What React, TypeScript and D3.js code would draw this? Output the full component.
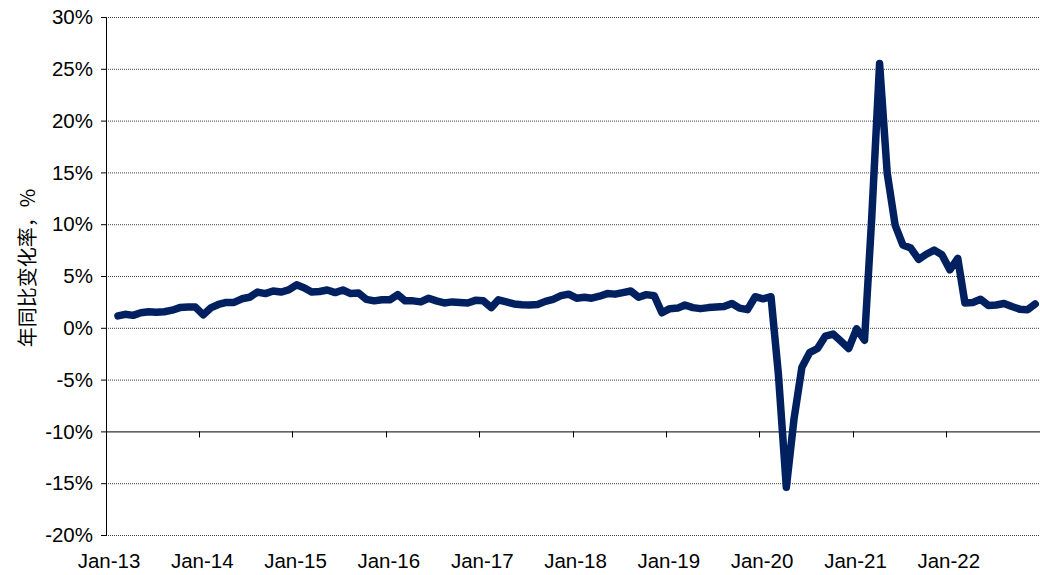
import * as d3 from "d3";

// Year-on-year change, %, monthly from Feb-13 to Dec-22
const v2013 = [1.15, 1.3, 1.2, 1.45, 1.55, 1.5, 1.55, 1.7, 1.95, 2.0, 2.0];
const v2014 = [1.25, 1.95, 2.25, 2.45, 2.45, 2.8, 2.95, 3.45, 3.3, 3.55, 3.45, 3.65];
const v2015 = [4.15, 3.85, 3.45, 3.5, 3.65, 3.4, 3.65, 3.3, 3.35, 2.75, 2.6, 2.7];
const v2016 = [2.7, 3.2, 2.6, 2.6, 2.5, 2.85, 2.6, 2.4, 2.5, 2.45, 2.4, 2.65];
const v2017 = [2.6, 1.95, 2.7, 2.5, 2.3, 2.22, 2.2, 2.25, 2.55, 2.75, 3.1, 3.25];
const v2018 = [2.86, 2.95, 2.86, 3.05, 3.3, 3.25, 3.4, 3.55, 2.95, 3.2, 3.1, 1.45];
const v2019 = [1.85, 1.9, 2.2, 1.95, 1.85, 1.95, 2.0, 2.05, 2.35, 1.9, 1.75, 3.0];
const v2020 = [2.8, 3.0, -4.5, -15.4, -8.8, -3.8, -2.4, -2.0, -0.8, -0.6, -1.3, -2.0];
const v2021 = [-0.1, -1.2, 10.5, 25.5, 14.9, 9.9, 8.0, 7.7, 6.6, 7.1, 7.5, 7.05];
const v2022 = [5.6, 6.7, 2.4, 2.45, 2.75, 2.15, 2.2, 2.35, 2.05, 1.8, 1.75, 2.3];

const yTicks = [30, 25, 20, 15, 10, 5, 0, -5, -10, -15, -20];
const yTitle = "年同比变化率，%";

const W = 1040;
const H = 575;
const LINE = "#002060";
const FONT = "'Liberation Sans', Arial, sans-serif";

interface Pt {
  date: Date;
  value: number;
}

export default function App() {
  const values = [
    ...v2013, ...v2014, ...v2015, ...v2016, ...v2017,
    ...v2018, ...v2019, ...v2020, ...v2021, ...v2022,
  ];
  const first = new Date(2013, 1, 1);
  const data: Pt[] = values.map((value, i) => {
    const m = d3.timeMonth.offset(first, i);
    return { date: d3.timeDay.offset(m, 16), value };
  });

  const x = d3
    .scaleTime()
    .domain([new Date(2013, 0, 1), new Date(2023, 0, 1)])
    .range([106, 1039]);
  const y = d3.scaleLinear().domain([-20, 30]).range([535, 17]);

  const years = d3.timeYear.range(new Date(2013, 0, 1), new Date(2022, 0, 2));
  const fmt = d3.timeFormat("%b-%y");

  const line = d3
    .line<Pt>()
    .x((d) => x(d.date))
    .y((d) => y(d.value));

  const x0 = x.range()[0];
  const x1 = W;
  const axisY = y(-10);

  return (
    <svg
      width={W}
      height={H}
      viewBox={`0 0 ${W} ${H}`}
      style={{ position: "fixed", left: 0, top: 0, background: "#fff" }}
    >
      {/* gridlines */}
      {yTicks
        .filter((t) => t !== -10)
        .map((t) => (
          <line
            key={t}
            x1={x0}
            x2={x1}
            y1={y(t) + 0.5}
            y2={y(t) + 0.5}
            stroke="#404040"
            strokeWidth={1}
            strokeDasharray="1 1"
          />
        ))}
      {/* category axis crossing at -10% */}
      <line x1={x0} x2={x1} y1={axisY + 0.5} y2={axisY + 0.5} stroke="#000" strokeWidth={1} />
      {years.slice(1).map((d) => (
        <line
          key={+d}
          x1={Math.round(x(d)) + 0.5}
          x2={Math.round(x(d)) + 0.5}
          y1={axisY}
          y2={axisY + 6}
          stroke="#000"
        />
      ))}
      {/* value axis */}
      <line x1={x0 + 0.5} x2={x0 + 0.5} y1={y(30)} y2={y(-20) + 1} stroke="#000" />
      {yTicks.map((t) => (
        <g key={t}>
          <line x1={x0 - 5} x2={x0} y1={y(t) + 0.5} y2={y(t) + 0.5} stroke="#000" />
          <text
            x={93}
            y={y(t)}
            dy="0.35em"
            textAnchor="end"
            fontFamily={FONT}
            fontSize={20.5}
            fill="#000"
          >
            {`${t}%`}
          </text>
        </g>
      ))}
      {/* x labels */}
      {years.map((d) => (
        <text
          key={+d}
          x={x(d) + 3}
          y={568}
          textAnchor="middle"
          fontFamily={FONT}
          fontSize={20.5}
          fill="#000"
        >
          {fmt(d)}
        </text>
      ))}
      {/* y title */}
      <text
        transform={`translate(35,${(y(30) + y(-20)) / 2 - 8}) rotate(-90)`}
        textAnchor="middle"
        fontFamily="'Noto Sans CJK SC', sans-serif"
        fontSize={20}
        fill="#000"
      >
        {yTitle}
      </text>
      {/* series */}
      <path
        d={line(data) ?? ""}
        fill="none"
        stroke={LINE}
        strokeWidth={7.5}
        strokeLinejoin="round"
        strokeLinecap="round"
      />
    </svg>
  );
}
